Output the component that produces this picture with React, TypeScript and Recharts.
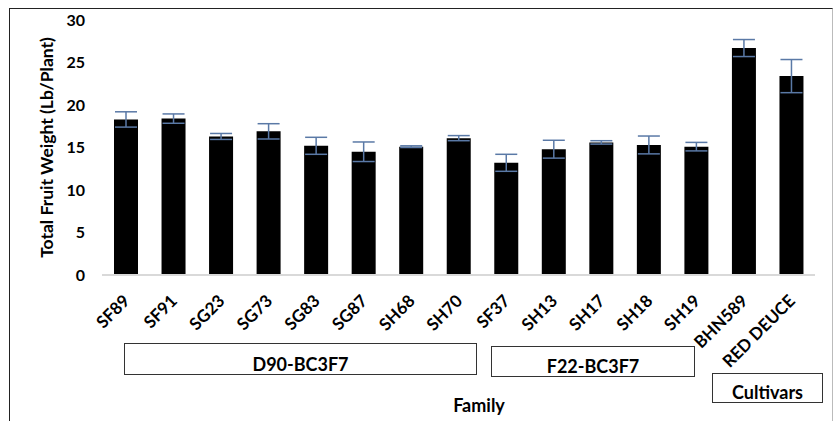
import { BarChart, Bar, XAxis, YAxis, ErrorBar } from "recharts";

const families = [
  "SF89", "SF91", "SG23", "SG73", "SG83", "SG87", "SH68", "SH70",
  "SF37", "SH13", "SH17", "SH18", "SH19", "BHN589", "RED DEUCE",
];
const weights = [18.3, 18.4, 16.3, 16.9, 15.2, 14.5, 15.1, 16.1, 13.2, 14.8, 15.6, 15.3, 15.1, 26.7, 23.4];
const stdErr = [0.9, 0.55, 0.35, 0.9, 1.0, 1.15, 0.1, 0.3, 1.0, 1.05, 0.2, 1.05, 0.5, 1.0, 1.95];
const yTicks = [0, 5, 10, 15, 20, 25, 30];

const groups = [
  { name: "D90-BC3F7", left: 124, top: 343, width: 353, height: 32 },
  { name: "F22-BC3F7", left: 491, top: 346, width: 204, height: 31 },
  { name: "Cultivars", left: 712, top: 373, width: 111, height: 30 },
];

const data = families.map((name, i) => ({ name, weight: weights[i], err: stdErr[i] }));

const FONT = "Lato, 'Open Sans', sans-serif";

const XTick = (props: any) => {
  const { x, payload } = props;
  const ax = x + 5;
  const ay = 302;
  return (
    <text
      x={ax}
      y={ay}
      transform={`rotate(-45, ${ax}, ${ay})`}
      textAnchor="end"
      fontSize={17}
      fontWeight={700}
      fontFamily={FONT}
      fill="#000"
    >
      {payload.value}
    </text>
  );
};

export default function App() {
  return (
    <div style={{ position: "absolute", left: 0, top: 0, width: 836, height: 421, background: "#fff", overflow: "hidden" }}>
      {/* frame */}
      <div
        style={{
          position: "absolute",
          left: 9,
          top: 8,
          width: 824,
          height: 430,
          borderTop: "1.5px solid #222",
          borderLeft: "1.5px solid #222",
          borderRight: "1.5px solid #bbb",
          boxSizing: "border-box",
        }}
      />
      <BarChart
        width={836}
        height={421}
        data={data}
        margin={{ top: 20, right: 21, left: 0, bottom: 0 }}
        barSize={24}
      >
        <XAxis
          dataKey="name"
          interval={0}
          height={146}
          tickLine={false}
          axisLine={{ stroke: "#d9d9d9", strokeWidth: 2 }}
          tick={<XTick />}
        />
        <YAxis
          width={102}
          domain={[0, 30]}
          ticks={yTicks}
          axisLine={false}
          tickLine={false}
          tickMargin={11}
          tick={{ fontSize: 16, fontWeight: 700, fill: "#000", fontFamily: FONT }}
          label={{
            value: "Total Fruit Weight (Lb/Plant)",
            angle: -90,
            position: "center",
            dx: -4,
            style: { fontSize: 17.5, fontWeight: 700, fill: "#000", fontFamily: FONT, textAnchor: "middle" },
          }}
        />
        <Bar dataKey="weight" fill="#000" isAnimationActive={false}>
          <ErrorBar dataKey="err" width={11} stroke="#5a79a6" strokeWidth={1.5} isAnimationActive={false} />
        </Bar>
      </BarChart>
      {groups.map((g) => (
        <div
          key={g.name}
          style={{
            position: "absolute",
            left: g.left,
            top: g.top,
            width: g.width,
            height: g.height,
            border: "1.5px solid #333",
            boxSizing: "border-box",
            display: "flex",
            alignItems: "flex-end",
            justifyContent: "center",
            paddingBottom: 1,
            lineHeight: "18px",
            fontFamily: FONT,
            fontWeight: 700,
            fontSize: 18,
          }}
        >
          {g.name}
        </div>
      ))}
      <div
        style={{
          position: "absolute",
          left: 430,
          top: 394,
          width: 98,
          textAlign: "center",
          fontFamily: FONT,
          fontWeight: 700,
          fontSize: 18,
        }}
      >
        Family
      </div>
    </div>
  );
}
